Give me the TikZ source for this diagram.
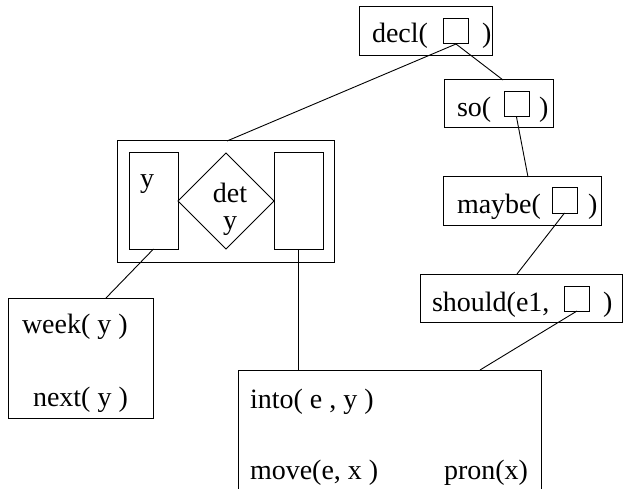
\documentclass[tikz,border=0pt]{standalone}
\usepackage{fontspec}
\setmainfont{Liberation Serif}
\usetikzlibrary{shapes.geometric}
\begin{document}
\begin{tikzpicture}[x=1pt,y=-1pt,
  line width=1pt,
  every node/.style={inner sep=0pt, outer sep=0pt},
  box/.style={draw, rectangle},
  slot/.style={draw, rectangle, minimum width=25pt, minimum height=25pt},
  lbl/.style={anchor=base west, font=\fontsize{28}{32}\selectfont},
  clbl/.style={anchor=base, font=\fontsize{28}{32}\selectfont},
  link/.style={draw, line width=0.9pt}]
\useasboundingbox (0,0) rectangle (626,489);

% decl( [] )
\node[box, minimum width=133pt, minimum height=49pt] (decl) at (425.5,31.5) {};
\node[slot] (dslot) at (456,31.5) {};
\node[lbl] (declt) at (372,43) {decl(};
\node[lbl] (declr) at (482,43) {)};

% so( [] )
\node[box, minimum width=109pt, minimum height=48pt] (so) at (498.5,104) {};
\node[slot] (sslot) at (516.5,104.5) {};
\node[lbl] (sot) at (457,117) {so(};
\node[lbl] (sor) at (539,117) {)};

% maybe( [] )
\node[box, minimum width=158pt, minimum height=48pt] (maybe) at (522,201) {};
\node[slot] (mslot) at (564.5,200.5) {};
\node[lbl] (maybet) at (457,214) {maybe(};
\node[lbl] (mayber) at (588,214) {)};

% should(e1, [] )
\node[box, minimum width=202pt, minimum height=48pt] (should) at (521,298) {};
\node[slot] (shslot) at (577,298.5) {};
\node[lbl] (shouldt) at (432,311) {should(e1,};
\node[lbl] (shouldr) at (603,311) {)};

% duplex condition
\node[box, minimum width=217pt, minimum height=121pt] (outer) at (225.5,201.5) {};
\node[box, minimum width=49pt, minimum height=96pt] (lres) at (153.5,201) {};
\node[draw, diamond, minimum width=96pt, minimum height=96pt, aspect=1] (det) at (226,201) {};
\node[box, minimum width=49pt, minimum height=96pt] (rres) at (298.5,201) {};
\node[lbl] (yl) at (140,187) {y};
\node[clbl] (dett) at (230,202) {det};
\node[clbl] (dety) at (230,229) {y};

% restrictor box
\node[box, minimum width=145pt, minimum height=120pt] (week) at (80.5,358) {};
\node[lbl] (weekt) at (22,333) {week( y )};
\node[lbl] (nextt) at (33,406) {next( y )};

% main box, open at the bottom
\draw (238,489) |- (541,370) -- (541,489);
\coordinate (intoA) at (298.5,370);
\coordinate (intoB) at (480,370);
\coordinate (outerA) at (227,141);
\coordinate (soA) at (503,80);
\coordinate (maybeA) at (528,177);
\coordinate (shouldA) at (517,274);
\coordinate (weekA) at (106,298);
\node[lbl] (intot) at (250,408) {into( e , y )};
\node[lbl] (movet) at (250,479) {move(e, x )};
\node[lbl] (pront) at (444,479) {pron(x)};

% connectors
\path[link] (dslot.south) -- (outerA);
\path[link] (dslot.south) -- (soA);
\path[link] (sslot.south) -- (maybeA);
\path[link] (mslot.south) -- (shouldA);
\path[link] (shslot.south) -- (intoB);
\path[link] (lres.south) -- (weekA);
\path[link] (rres.south) -- (intoA);
\end{tikzpicture}
\end{document}
